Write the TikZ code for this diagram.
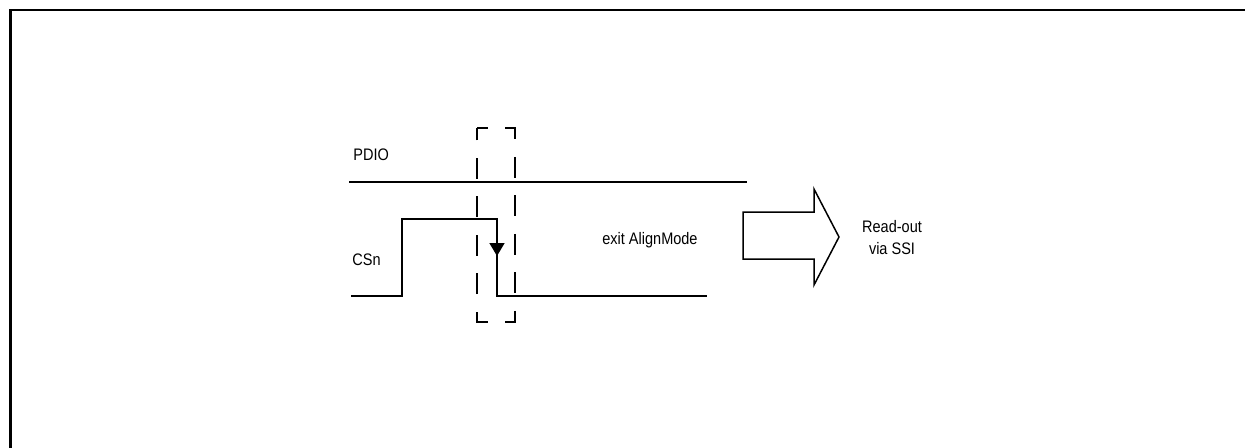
\documentclass[tikz,border=0pt]{standalone}
\usepackage{fontspec}
\setmainfont{Liberation Sans}[FakeStretch=0.87]
\usepackage{tikz}
\usetikzlibrary{arrows.meta}
\tikzstyle{sig}=[line width=1.1pt]
\tikzstyle{lbl}=[inner sep=0pt,font=\fontsize{9.5}{12.5}\selectfont]
\tikzstyle{win}=[line width=1.1pt,dash pattern=on 11.9pt off 10pt,dash phase=5.7pt]
\tikzstyle{bigarrow}=[line width=0.85pt]

\begin{document}
\begin{tikzpicture}[x=0.02cm,y=-0.02cm]
\useasboundingbox (0,0) rectangle (1245,447);
% frame
\draw[line width=1.7pt] (10.5,470) -- (10.5,10) -- (1270,10);
% labels
\node[lbl,anchor=base west] (pdio) at (353,160) {PDIO};
\node[lbl,anchor=base west] (csn) at (352,265) {CSn};
\node[lbl,anchor=base west] (exit) at (602,244) {exit AlignMode};
\node[lbl,align=center] (ssi) at (892,238) {Read-out\\via SSI};
% PDIO
\coordinate (p0) at (349,182);
\coordinate (p1) at (747,182);
\draw[sig] (p0) -- (p1);
% CSn
\coordinate (c0) at (351,296);
\coordinate (c1) at (402,219);
\coordinate (c2) at (497,219);
\coordinate (c3) at (497,296);
\coordinate (c4) at (707,296);
\coordinate (cm) at (497,256);
\draw[sig] (c0) -| (c1) -- (c2) -- (c3) -- (c4);
\draw[sig,-{Triangle[length=7.4pt,width=8.5pt]}] (c2) -- (cm);
% window
\draw[win] (477,128) -- (515,128) -- (515,322) -- (477,322) -- cycle;
% read-out arrow
\draw[bigarrow] (743,212) -- (814,212) -- (814,189) -- (839,237)
  -- (814,285) -- (814,259) -- (743,259) -- cycle;
\end{tikzpicture}
\end{document}
